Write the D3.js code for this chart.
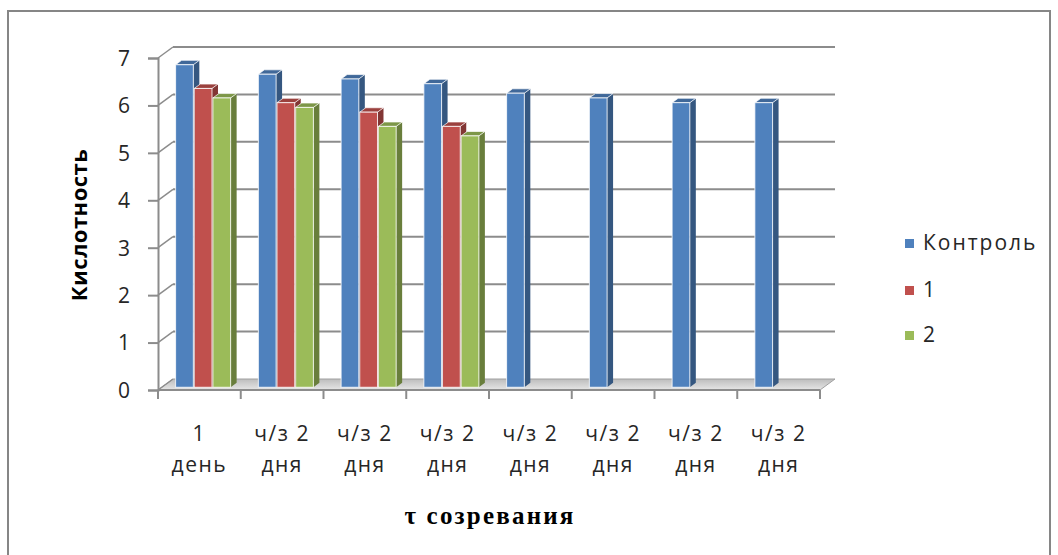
<!DOCTYPE html>
<html>
<head>
<meta charset="utf-8">
<script src="https://cdn.jsdelivr.net/npm/d3@7"></script>
<style>
  html, body { margin: 0; padding: 0; background: #fff; }
  svg { display: block; }
</style>
</head>
<body>
<svg id="chart" width="1058" height="555"></svg>
<script>
// ---- data ----
const categories = ["1 день", "ч/з 2 дня", "ч/з 2 дня", "ч/з 2 дня", "ч/з 2 дня", "ч/з 2 дня", "ч/з 2 дня", "ч/з 2 дня"];
const seriesNames = ["Контроль", "1", "2"];
const controlValues = [6.8, 6.6, 6.5, 6.4, 6.2, 6.1, 6.0, 6.0];
const series1Values = [6.3, 6.0, 5.8, 5.5, null, null, null, null];
const series2Values = [6.1, 5.9, 5.5, 5.3, null, null, null, null];
const yTicks = [0, 1, 2, 3, 4, 5, 6, 7];
const colors = ["#4F81BD", "#C0504D", "#9BBB59"];

const seriesValues = [controlValues, series1Values, series2Values];

const svg = d3.select("#chart");
const sans = "'Open Sans', sans-serif";

// outer frame
svg.append("rect")
  .attr("x", 8).attr("y", 11).attr("width", 1042).attr("height", 545)
  .attr("fill", "#fff").attr("stroke", "#868686").attr("stroke-width", 2);

// plot geometry (front plane) and 3D depth offset
const x0 = 158, x1 = 820, yBase = 390, yTop = 58;
const depth = { dx: 15, dy: -11 };
const barDepthFront = 0.25, barDepthBack = 0.65;

const y = d3.scaleLinear().domain([0, 7]).range([yBase, yTop]);
const x = d3.scaleBand().domain(d3.range(categories.length)).range([x0, x1]);
const groupW = x.bandwidth() * 0.665;
const xs = d3.scaleBand().domain(d3.range(seriesNames.length))
  .range([0, groupW]).paddingInner(0.05);

const grid = svg.append("g");

// floor
const floorGrad = svg.append("defs").append("linearGradient")
  .attr("id", "floorGrad").attr("x1", 0).attr("y1", 0).attr("x2", 0).attr("y2", 1);
floorGrad.append("stop").attr("offset", 0).attr("stop-color", "#bdbdbd");
floorGrad.append("stop").attr("offset", 1).attr("stop-color", "#e6e6e6");
grid.append("path")
  .attr("d", `M${x0},${yBase} L${x1},${yBase} L${x1 + depth.dx},${yBase + depth.dy} L${x0 + depth.dx},${yBase + depth.dy} Z`)
  .attr("fill", "url(#floorGrad)").attr("stroke", "#a0a0a0").attr("stroke-width", 1);

// back wall gridlines and left wall diagonals
yTicks.forEach(v => {
  const yf = y(v), yb = y(v) + depth.dy;
  if (v > 0) {
    grid.append("line")
      .attr("x1", x0 + depth.dx).attr("x2", x1 + depth.dx)
      .attr("y1", yb).attr("y2", yb)
      .attr("stroke", "#8c8c8c").attr("stroke-width", 2);
  }
  grid.append("line")
    .attr("x1", x0).attr("y1", yf).attr("x2", x0 + depth.dx).attr("y2", yb)
    .attr("stroke", "#8c8c8c").attr("stroke-width", 1.5);
});

// y axis
const yAxis = svg.append("g").attr("transform", `translate(${x0},0)`)
  .call(d3.axisLeft(y).tickValues(yTicks).tickSize(10).tickPadding(18).tickFormat(d3.format("d")));
yAxis.select(".domain").attr("stroke", "#8c8c8c").attr("stroke-width", 2);
yAxis.selectAll(".tick line").attr("stroke", "#8c8c8c").attr("stroke-width", 2);
yAxis.selectAll(".tick text")
  .attr("fill", "#262626").style("font-family", sans)
  .style("font-size", "21px").attr("dy", "0.35em");

// x axis line + category boundary ticks
const xAxisG = svg.append("g");
xAxisG.append("line").attr("x1", x0).attr("x2", x1).attr("y1", yBase).attr("y2", yBase)
  .attr("stroke", "#8c8c8c").attr("stroke-width", 2);
d3.range(categories.length + 1).forEach(i => {
  const xx = i < categories.length ? x(i) : x1;
  xAxisG.append("line").attr("x1", xx).attr("x2", xx).attr("y1", yBase).attr("y2", yBase + 9)
    .attr("stroke", "#8c8c8c").attr("stroke-width", 2);
});

// category labels (two lines)
categories.forEach((c, i) => {
  const parts = c.split(" ");
  const lines = [parts.slice(0, parts.length - 1).join(" "), parts[parts.length - 1]];
  const cx = x(i) + x.bandwidth() / 2;
  const t = xAxisG.append("text")
    .attr("x", cx).attr("y", 441)
    .attr("text-anchor", "middle").attr("fill", "#262626")
    .style("font-family", sans).style("font-size", "21px")
    .style("letter-spacing", "1.5px");
  lines.forEach((l, k) => {
    t.append("tspan").attr("x", cx).attr("dy", k === 0 ? 0 : 31).text(l);
  });
});

// 3D bars
const bars = svg.append("g");
const fdx = depth.dx * barDepthFront, fdy = depth.dy * barDepthFront;
const sdx = depth.dx * (barDepthBack - barDepthFront), sdy = depth.dy * (barDepthBack - barDepthFront);

categories.forEach((c, i) => {
  seriesValues.forEach((vals, s) => {
    const v = vals[i];
    if (v == null) return;
    const bx = x(i) + (x.bandwidth() - groupW) / 2 + xs(s) + fdx;
    const bw = xs.bandwidth();
    const by = y(v) + fdy;
    const bb = y(0) + fdy;
    const col = d3.color(colors[s]);
    // side face
    bars.append("path")
      .attr("d", `M${bx + bw},${by} L${bx + bw + sdx},${by + sdy} L${bx + bw + sdx},${bb + sdy} L${bx + bw},${bb} Z`)
      .attr("fill", col.darker(1.1));
    // top face
    bars.append("path")
      .attr("d", `M${bx},${by} L${bx + sdx},${by + sdy} L${bx + bw + sdx},${by + sdy} L${bx + bw},${by} Z`)
      .attr("fill", col.darker(0.6)).attr("stroke", "rgba(255,255,255,0.7)").attr("stroke-width", 1);
    // front face
    bars.append("rect")
      .attr("x", bx).attr("y", by).attr("width", bw).attr("height", bb - by)
      .attr("fill", colors[s]).attr("stroke", "rgba(255,255,255,0.8)").attr("stroke-width", 1);
  });
});

// axis titles
svg.append("text")
  .attr("transform", "translate(87,225) rotate(-90)")
  .attr("text-anchor", "middle").attr("fill", "#000")
  .style("font-family", sans).style("font-weight", "bold").style("font-size", "22px")
  .style("letter-spacing", "0.5px")
  .text("Кислотность");

svg.append("text")
  .attr("x", 490).attr("y", 524)
  .attr("text-anchor", "middle").attr("fill", "#000")
  .style("font-family", "'Liberation Serif', serif").style("font-weight", "bold").style("font-size", "25px")
  .style("letter-spacing", "2.2px")
  .text("τ созревания");

// legend
const legend = svg.append("g");
[243, 290, 335].forEach((ly, s) => {
  legend.append("rect").attr("x", 905).attr("y", ly - 4).attr("width", 9).attr("height", 9)
    .attr("fill", colors[s]);
  legend.append("text").attr("x", 923).attr("y", ly).attr("dy", "0.35em")
    .attr("fill", "#262626").style("font-family", sans).style("font-size", "21px")
    .style("letter-spacing", "2px")
    .text(seriesNames[s]);
});
</script>
</body>
</html>
